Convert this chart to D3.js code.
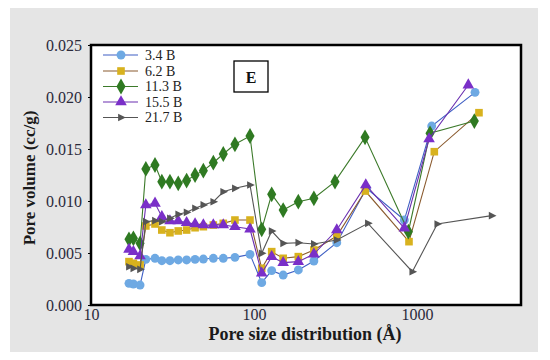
<!DOCTYPE html>
<html><head><meta charset="utf-8">
<script src="https://cdn.jsdelivr.net/npm/d3@7"></script>
<style>html,body{margin:0;padding:0;background:#fff;}svg{display:block;}</style>
</head><body>
<svg id="c" width="550" height="360"></svg>
<script>
// ---- data ----
const seriesNames = ["3.4 B", "6.2 B", "11.3 B", "15.5 B", "21.7 B"];
const size34  = [17.1,18.2,20.0,21.7,24.7,27.2,30.5,34.3,38.6,43.5,48.9,56.3,64.8,76.4,94.5,111.5,128.4,151,187,233,322,490,836,1231,2270];
const vol34   = [0.00208,0.00202,0.00192,0.00439,0.00449,0.00426,0.00426,0.00433,0.00433,0.00439,0.00442,0.00449,0.00449,0.00458,0.00487,0.00215,0.00330,0.00288,0.00337,0.00423,0.00599,0.01122,0.00817,0.01721,0.02045];
const size62  = [17.1,18.2,20.0,21.7,24.7,27.2,30.5,34.3,38.6,43.5,48.9,56.3,64.8,76.4,94.5,111.5,128.4,151,187,233,322,482,893,1277,2400];
const vol62   = [0.00417,0.00401,0.00385,0.00760,0.00779,0.00721,0.00695,0.00712,0.00721,0.00743,0.00753,0.00769,0.00785,0.00817,0.00817,0.00353,0.00513,0.00449,0.00465,0.00529,0.00663,0.01096,0.00609,0.01474,0.01849];
const size113 = [17.1,18.2,20.0,21.7,24.7,27.2,30.5,34.3,38.6,43.5,48.9,56.3,64.8,76.4,94.5,111.5,128.4,151,187,233,314,480,885,1202,2248];
const vol113  = [0.00632,0.00641,0.00593,0.01308,0.01346,0.01186,0.01186,0.01170,0.01196,0.01250,0.01292,0.01368,0.01452,0.01545,0.01625,0.00728,0.01064,0.00913,0.00993,0.01026,0.01186,0.01612,0.00705,0.01651,0.01769];
const size155 = [17.1,18.2,20.0,21.7,24.7,27.2,30.5,34.3,38.6,43.5,48.9,56.3,64.8,76.4,94.5,111.5,128.4,151,187,233,322,485,836,1186,2065];
const vol155  = [0.00535,0.00513,0.00471,0.00962,0.00978,0.00849,0.00808,0.00808,0.00792,0.00779,0.00769,0.00769,0.00769,0.00753,0.00730,0.00305,0.00465,0.00407,0.00417,0.00490,0.00721,0.01154,0.00740,0.01596,0.02115];
const size217 = [17.1,18.2,20.0,21.7,24.7,27.2,30.5,34.3,38.6,43.5,48.9,56.3,64.8,76.4,94.5,111.5,128.4,151,187,233,322,500,936,1332,2872];
const vol217  = [0.00368,0.00353,0.00343,0.00801,0.00811,0.00801,0.00833,0.00872,0.00891,0.00930,0.00962,0.00993,0.01089,0.01122,0.01154,0.00497,0.00711,0.00593,0.00599,0.00587,0.00625,0.00785,0.00320,0.00779,0.00859];
const xTicks = [10, 100, 1000];
const yTicks = [0, 0.005, 0.010, 0.015, 0.020, 0.025];
const panelLabel = "E";

const sizes = [size34, size62, size113, size155, size217];
const vols = [vol34, vol62, vol113, vol155, vol217];
const lineColors = ["#3f5fc4", "#8a5a2e", "#3c7a2a", "#6a2fb0", "#555555"];
const markColors = ["#6ea9e3", "#d8b21e", "#2f7a22", "#7a2fc8", "#555555"];
const symbols = [d3.symbolCircle, d3.symbolSquare, d3.symbolDiamond, d3.symbolTriangle, "tri-right"];
const symSizes = [62, 58, 72, 58, 60];

const svg = d3.select("#c");
const L = 91, R = 521, T = 45, B = 305;

svg.append("rect").attr("x", 10).attr("y", 8).attr("width", 528).attr("height", 344).attr("fill", "#e5e5e5");
svg.append("rect").attr("x", L).attr("y", T).attr("width", R - L).attr("height", B - T).attr("fill", "#fff");

const x = d3.scaleLog().domain([10, Math.pow(10, 1 + (R - L) / 163)]).range([L, R]);
const y = d3.scaleLinear().domain([0, 0.025]).range([B, T]);

const font = "'Liberation Serif', 'Times New Roman', serif";

// axes
const xAxis = d3.axisBottom(x).tickValues(xTicks).tickFormat(d3.format("d")).tickSize(0).tickPadding(4);
const gx = svg.append("g").attr("transform", `translate(0,${B})`).call(xAxis);
gx.select(".domain").remove();
gx.selectAll("text").attr("font-family", font).attr("font-size", 16).attr("fill", "#2a2a3a");

const yAxis = d3.axisLeft(y).tickValues(yTicks).tickFormat(d3.format(".3f")).tickSize(3).tickPadding(6);
const gy = svg.append("g").attr("transform", `translate(${L},0)`).call(yAxis);
gy.select(".domain").remove();
gy.selectAll("line").attr("stroke", "#000");
gy.selectAll("text").attr("font-family", font).attr("font-size", 16).attr("fill", "#2a2a3a");

// symbol paths
function symPath(s, size) {
  if (s === "tri-right") {
    const r = Math.sqrt(size) * 0.62;
    return `M${r},0L${-r * 0.6},${-r * 0.8}L${-r * 0.6},${r * 0.8}Z`;
  }
  return d3.symbol().type(s).size(size)();
}

const line = d3.line().x(d => x(d[0])).y(d => y(d[1]));
const plot = svg.append("g");
seriesNames.forEach((name, i) => {
  const pts = sizes[i].map((s, j) => [s, vols[i][j]]);
  plot.append("path").datum(pts).attr("d", line).attr("fill", "none")
    .attr("stroke", lineColors[i]).attr("stroke-width", 1.1);
  plot.selectAll(null).data(pts).enter().append("path")
    .attr("transform", d => `translate(${x(d[0])},${y(d[1])})`)
    .attr("d", symPath(symbols[i], symSizes[i]))
    .attr("fill", markColors[i]);
});

// border
svg.append("rect").attr("x", L).attr("y", T).attr("width", R - L).attr("height", B - T)
  .attr("fill", "none").attr("stroke", "#000").attr("stroke-width", 2.5);

// legend
const legY = [55, 71, 86.5, 102, 117.5];
const leg = svg.append("g");
seriesNames.forEach((name, i) => {
  leg.append("line").attr("x1", 103).attr("x2", 138).attr("y1", legY[i]).attr("y2", legY[i])
    .attr("stroke", lineColors[i]).attr("stroke-width", 1.2);
  leg.append("path").attr("transform", `translate(121,${legY[i]})`)
    .attr("d", symPath(symbols[i], symSizes[i])).attr("fill", markColors[i]);
  leg.append("text").attr("x", 145).attr("y", legY[i]).attr("dy", "0.35em")
    .attr("font-family", font).attr("font-size", 14).attr("fill", "#222").text(name);
});

// panel label
svg.append("rect").attr("x", 234).attr("y", 61).attr("width", 34).attr("height", 31)
  .attr("fill", "#fff").attr("stroke", "#000").attr("stroke-width", 1.3);
svg.append("text").attr("x", 251).attr("y", 77).attr("dy", "0.35em").attr("text-anchor", "middle")
  .attr("font-family", font).attr("font-weight", "bold").attr("font-size", 16).attr("fill", "#111").text(panelLabel);

// axis titles
svg.append("text").attr("x", 305).attr("y", 334).attr("dy", "0.35em").attr("text-anchor", "middle")
  .attr("font-family", font).attr("font-weight", "bold").attr("font-size", 18).attr("fill", "#1a1a1a")
  .text("Pore size distribution (Å)");
svg.append("text").attr("transform", "translate(29,178) rotate(-90)").attr("dy", "0.35em").attr("text-anchor", "middle")
  .attr("font-family", font).attr("font-weight", "bold").attr("font-size", 17).attr("fill", "#1a1a1a")
  .text("Pore volume (cc/g)");
</script>
</body></html>
